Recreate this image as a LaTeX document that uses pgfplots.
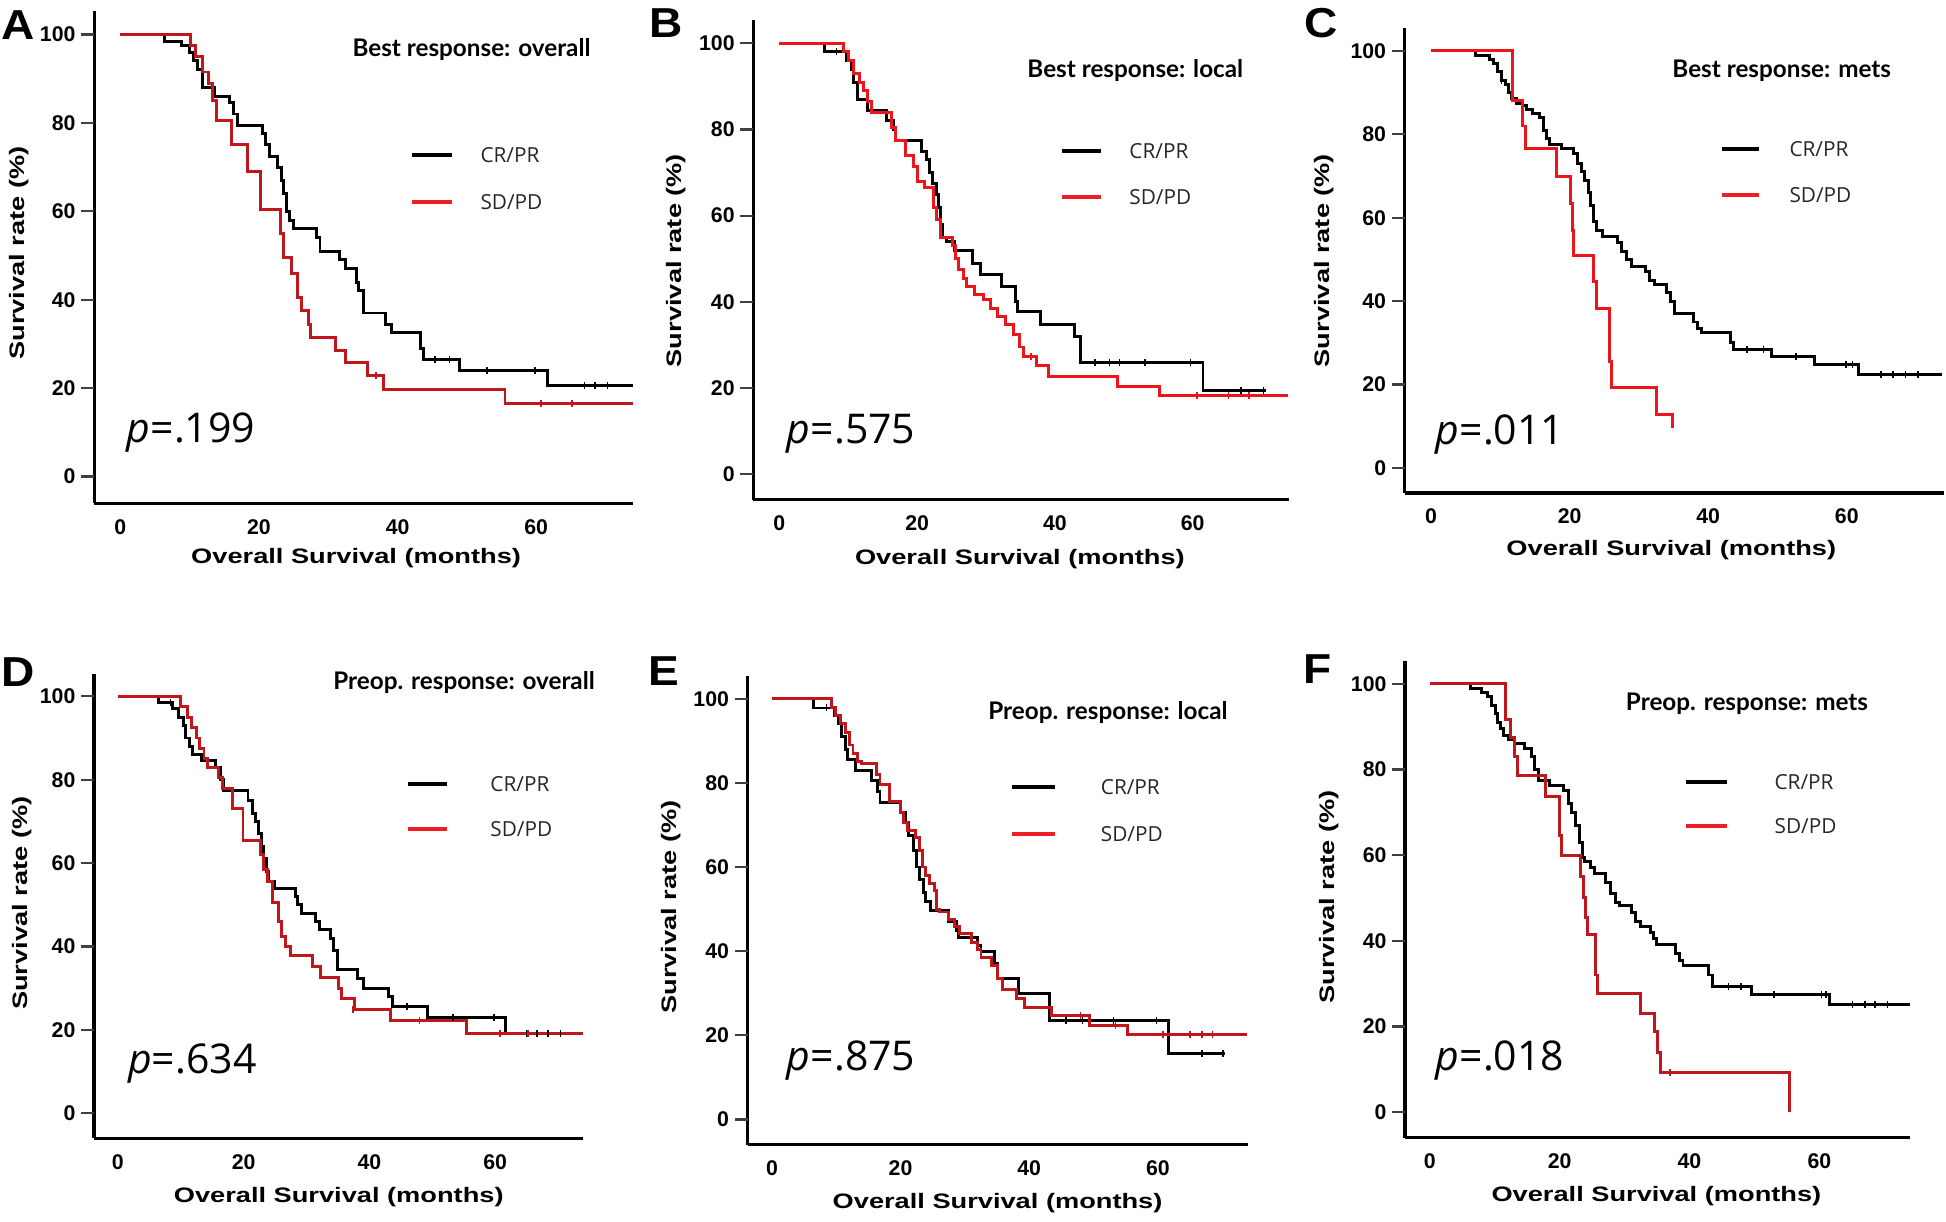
\documentclass[border=0pt]{standalone}
\usepackage{pgfplots}
\pgfplotsset{compat=1.18}
\usepackage{fontspec}
\setmainfont{Liberation Sans}
\newfontfamily\labfam[FakeStretch=1.3]{Liberation Sans}
\newfontfamily\letfam[FakeStretch=1.1]{Liberation Sans}
\newfontfamily\titfam{Lato}
\newfontfamily\legfam{Open Sans}
\newcommand{\tickfont}{\fontsize{12.2}{13}\selectfont\bfseries}
\newcommand{\labfont}{\labfam\fontsize{12}{13}\selectfont\bfseries}
\newcommand{\titfont}{\titfam\fontsize{13.9}{15}\selectfont\bfseries}
\newcommand{\legfont}{\legfam\fontsize{11.9}{13}\selectfont\color{black!85}}
\newcommand{\pval}[1]{{\legfam\fontsize{23.5}{25}\selectfont\itshape p\upshape=#1}}
\newcommand{\letfont}{\letfam\fontsize{24}{26}\selectfont\bfseries}
\definecolor{dred}{RGB}{192,22,28}
\definecolor{bred}{RGB}{236,22,26}
\definecolor{lred}{RGB}{238,30,36}
\pgfplotsset{
 ks/.style={scale only axis, anchor=south west, clip=false,
  xmin=-3.8, xmax=74, ymin=-6, ymax=105.4,
  axis lines=left, axis line style={-, line width=1.8pt},
  xtick={0,20,40,60}, ytick={0,20,40,60,80,100},
  major tick length=0pt,
  ticklabel style={font=\tickfont},
  xticklabel shift=0.20cm, yticklabel shift=0.25cm,
  /pgf/number format/assume math mode=true,
  after end axis/.code={%
    \foreach \tk in {0,20,40,60,80,100}{\draw[black!75, line width=1.3pt] (axis cs:-3.8,\tk) -- ++(-0.26cm,0pt);}%
  }},
 km/.style={const plot, line width=1.7pt, mark=none},
 cs/.style={only marks, mark=|, mark size=2pt, mark options={line width=0.9pt}},
}
\begin{document}
\begin{tikzpicture}
\useasboundingbox (0,0) rectangle (39.2,-24.6);
% ---------------- A
\begin{axis}[ks, at={(1.895cm,-10.135cm)}, width=10.86cm, height=9.9225cm]
\addplot[km, black] coordinates {(0,100) (6.4,98.5) (8.8,97.5) (10,96) (10.6,94) (11.1,92) (11.8,88) (13.6,86) (15.7,84.5) (16.3,82) (16.9,79.5) (20.5,77.5) (21,75) (21.5,72.5) (22.6,70) (23.2,67) (23.5,64) (23.9,60) (24.4,58) (25,56) (28.3,54) (28.8,51) (31.6,49) (32.5,47) (34,44) (34.3,42) (35.1,37) (38.2,34.5) (39.1,32.5) (43.3,29) (43.7,26.5) (49,24) (61.6,20.5) (73.9,20.5)};
\addplot[cs, black] coordinates {(45.4,26.5) (47.5,26.5) (52.9,24) (59.8,24) (67,20.5) (68.5,20.5) (70.3,20.5)};
\addplot[km, dred] coordinates {(0,100) (10.1,97.5) (10.9,95) (11.8,91.5) (12.7,89) (13.3,85) (13.9,80.5) (16.1,75) (18.3,69) (20.2,60.5) (23.1,55) (23.5,49.5) (24.7,46) (25.6,40.5) (26.2,37.5) (27.1,34.5) (27.4,31.5) (31,28.5) (32.5,25.8) (35.7,22.9) (37.9,19.7) (55.5,16.5) (73.9,16.5)};
\addplot[cs, dred] coordinates {(36.9,22.9) (60.7,16.5) (65.2,16.5)};
\end{axis}
% ---------------- B
\begin{axis}[ks, at={(15.1725cm,-10.07cm)}, width=10.795cm, height=9.665cm]
\addplot[km, black] coordinates {(0,100) (6.5,98) (9.8,96) (10.4,94) (10.8,91) (11.3,87) (12.8,84.5) (15.5,82) (16.5,80) (16.8,77.5) (20.7,75) (21.3,73) (21.8,70) (22.2,67.5) (22.8,65) (23.1,62) (23.4,58) (23.7,55) (24.3,54) (25.4,52) (28,49) (29.2,46.3) (32.2,43.5) (34.3,40) (34.6,37.7) (37.9,34.8) (42.8,32) (43.7,25.8) (61.5,19.5) (70.6,19.5)};
\addplot[cs, black] coordinates {(8.3,98) (45.8,25.8) (47.9,25.8) (49.4,25.8) (53.1,25.8) (59.7,25.8) (67,19.5) (70.3,19.5)};
\addplot[km, bred] coordinates {(0,100) (9.3,98) (10.1,96) (10.7,93) (11.6,91) (12.2,89) (12.8,86.5) (13.4,84) (16.3,80.5) (16.8,77.5) (18.3,74) (19.5,71.5) (20.1,68) (21,66.5) (22.4,62) (22.8,59) (23.4,55) (25.2,53) (25.6,50) (26,47.5) (26.7,45.5) (27.2,43.5) (28.3,41.7) (29.6,40.5) (30.7,38.5) (31.6,36.5) (32.8,34.8) (34,32.5) (34.9,29.5) (35.5,27.3) (37.3,25.3) (39,22.6) (49.1,20.3) (55.2,18.2) (73.9,18.2)};
\addplot[cs, bred] coordinates {(36.5,27.3) (60.6,18.2) (65.2,18.2) (68.2,18.2)};
\end{axis}
% ---------------- C
\begin{axis}[ks, at={(28.295cm,-9.93cm)}, width=10.86cm, height=9.3575cm]
\addplot[km, black] coordinates {(0,100) (6.4,99) (8.4,98) (9,97) (9.6,95) (10.2,93) (10.8,92) (11.2,90) (11.6,88.5) (12.3,87.5) (13.2,87) (13.8,86) (14.7,85) (15.6,84) (16.2,81) (16.6,79) (17.1,77.5) (18.8,76.5) (20.6,75.5) (21.2,73) (21.7,71) (22.1,69) (22.7,66) (23,63) (23.4,59) (23.9,57) (24.8,55.4) (26.9,54) (27.5,52) (28.2,50) (29,48.4) (31,47) (31.6,45) (32.3,44) (34,42) (34.6,40) (35.2,37) (37.9,35) (38.5,33.5) (39.1,32.5) (43.2,30) (43.6,28.3) (49.2,26.7) (55.3,24.7) (61.7,22.4) (73.8,22.4)};
\addplot[cs, black] coordinates {(10.2,93) (45.6,28.3) (48,28.3) (52.7,26.7) (59.9,24.7) (60.8,24.7) (64.9,22.4) (66.7,22.4) (68.5,22.4) (70.3,22.4)};
\addplot[km, bred] coordinates {(0,100) (11.7,88.2) (13.2,82) (13.6,76.5) (18.1,70) (20.2,63.5) (20.4,57) (20.6,51) (23.4,44.7) (23.9,38.3) (25.7,25.5) (26,19.3) (32.5,12.8) (34.9,9.5)};
\end{axis}
% ---------------- D
\begin{axis}[ks, at={(1.8925cm,-22.93cm)}, width=9.855cm, height=9.3575cm]
\addplot[km, black] coordinates {(0,100) (6.4,98.5) (8.7,97) (9.7,95) (10.4,93) (10.8,90) (11.4,88) (11.9,86) (13.3,84.5) (15.6,83) (16.3,80) (16.8,77.5) (20.7,75) (21.4,72) (21.9,70) (22.4,67) (22.9,64) (23.2,61) (23.6,58) (24,55.7) (24.9,54) (28.2,52) (28.6,50) (29.2,48) (31.5,46) (32.1,44) (33.8,42) (34.3,39) (35,34.5) (38.1,32.3) (39,30) (43,28) (43.6,25.5) (49.3,22.9) (61.7,19.1) (70.4,19.1)};
\addplot[cs, black] coordinates {(8.4,98.5) (46,25.5) (53.3,22.9) (59.8,22.9) (65,19.1) (66.7,19.1) (68.4,19.1) (70.4,19.1)};
\addplot[km, dred] coordinates {(0,100) (10,97.5) (11,95) (11.7,92.5) (12.5,90) (13,87.5) (13.7,85) (14.3,82.9) (16,80.5) (16.6,78) (18.3,73) (19.9,65.5) (22.7,62) (23.2,58.5) (23.8,55.5) (24.6,50.5) (25.5,46) (26.1,42.5) (26.7,40) (27.5,37.9) (31,35.3) (32.3,32.6) (35.1,30) (35.6,27.5) (37.6,25) (43.4,22.2) (55.4,19.1) (74,19.1)};
\addplot[cs, dred] coordinates {(37.4,25) (48,22.2) (60.8,19.1) (65.2,19.1)};
\end{axis}
% ---------------- E
\begin{axis}[ks, at={(15.0575cm,-23.0575cm)}, width=10.08cm, height=9.44cm]
\addplot[km, black] coordinates {(0,100) (6.5,97.8) (9.8,96) (10.4,94) (10.8,91) (11.4,88) (11.7,85.5) (13,83) (15.5,80.5) (16.4,78) (16.8,75.3) (20,73) (20.7,70.5) (21.3,67.5) (22,64) (22.4,60) (22.9,57) (23.6,54) (23.9,51.8) (24.7,49.6) (27.4,47) (28.7,45) (29,43.2) (31.9,41.3) (32.5,40) (34.6,37) (35,33.6) (38.3,30) (43.1,23.4) (61.7,15.6) (70.4,15.6)};
\addplot[cs, black] coordinates {(8.5,97.8) (45.7,23.4) (48.3,23.4) (53.1,23.4) (59.8,23.4) (66.9,15.6) (70.1,15.6)};
\addplot[km, dred] coordinates {(0,100) (9.3,98) (9.9,96) (10.7,94) (11.4,92) (12,89) (12.6,87) (13.3,85) (13.9,84.5) (16.2,82) (16.8,79.5) (18.3,75.5) (20,73) (20.5,70.5) (21,68.7) (22.3,67) (22.9,64) (23.4,60) (23.9,58) (24.5,56) (25.2,54.5) (25.6,50) (26.1,49.3) (27.4,47.5) (28.4,45.8) (29.2,44.2) (31.1,42) (31.9,40.5) (32.5,38.6) (34.1,36.5) (35.1,33.5) (35.8,30.8) (38,28.8) (39.3,26.7) (43.5,24.6) (49.4,22.4) (55.3,20.1) (73.9,20.1)};
\addplot[cs, dred] coordinates {(48,24.6) (53.4,22.4) (60.8,20.1) (65,20.1) (66.9,20.1) (68.5,20.1)};
\end{axis}
% ---------------- F
\begin{axis}[ks, at={(28.3025cm,-22.9175cm)}, width=10.1775cm, height=9.6075cm]
\addplot[km, black] coordinates {(0,100) (6.3,99) (7.9,98) (8.9,97) (9.5,95) (10.2,93) (10.5,91) (10.9,89.5) (11.4,88) (12.1,87) (13,86) (14.6,85) (15.6,83) (16.1,80) (16.7,77.5) (18.4,76.3) (20.6,75) (21.3,72) (21.9,70) (22.4,67) (23,63) (23.5,59.5) (23.8,58.5) (24.8,57) (25.4,55.7) (27,53.5) (27.9,51) (28.6,49) (29.2,48.3) (31.1,46.5) (31.7,44.5) (32.4,43.4) (34,42) (34.5,40.5) (34.9,39.2) (37.8,37) (38.4,35.5) (39,34.3) (43,32) (43.5,29.3) (49.5,27.4) (61.6,25.2) (74,25.2)};
\addplot[cs, black] coordinates {(46,29.3) (47.9,29.3) (53,27.4) (60.3,27.4) (61,27.4) (65.1,25.2) (67,25.2) (68.6,25.2) (70.5,25.2)};
\addplot[km, dred] coordinates {(0,100) (11.6,91.7) (12.4,87.5) (13.1,83) (13.5,78.6) (17.9,73.8) (20,64.5) (20.3,59.8) (23.2,55) (23.7,50) (24,45.5) (24.3,41.4) (25.5,32) (25.8,27.6) (32.4,23) (34.6,18.7) (35.1,13.8) (35.6,9.2) (55.4,0)};
\addplot[cs, dred] coordinates {(37,9.2)};
\end{axis}
% ---------------- texts
\begin{scope}[x=0.025cm,y=-0.025cm]
\foreach \L/\x/\y in {A/15/20,B/537/19,C/1065/19,D/15/542,E/535/541,F/1062/539}
  \node[font=\letfont, inner sep=0pt] at (\x,\y) {\L};
\foreach \x/\y in {287/450,822/451,1347/443,273/965,804/970,1335/964}
  \node[font=\labfont, inner sep=0pt] at (\x,\y) {Overall Survival (months)};
\foreach \x/\y in {15/204,545/210,1067/210,18/728,541/731,1071/723}
  \node[font=\labfont, inner sep=0pt, rotate=90] at (\x,\y) {Survival rate (\%)};
\node[font=\titfont, inner sep=0pt] at (380,40) {Best response: overall};
\node[font=\titfont, inner sep=0pt] at (915,57) {Best response: local};
\node[font=\titfont, inner sep=0pt] at (1436,57) {Best response: mets};
\node[font=\titfont, inner sep=0pt] at (374,550) {Preop. response: overall};
\node[font=\titfont, inner sep=0pt] at (893,574) {Preop. response: local};
\node[font=\titfont, inner sep=0pt] at (1408,567) {Preop. response: mets};
\foreach \a/\b/\t/\yb/\yr in {332/364/387/125/163, 856/887/910/122/159, 1388/1418/1442/120/157, 329/360/395/632/668, 816/850/887/634/672, 1359/1392/1430/630/666}{
  \draw[black, line width=2.4pt] (\a,\yb) -- (\b,\yb);
  \draw[lred, line width=2.4pt] (\a,\yr) -- (\b,\yr);
  \node[font=\legfont, anchor=west, inner sep=0pt] at (\t,\yb) {CR/PR};
  \node[font=\legfont, anchor=west, inner sep=0pt] at (\t,\yr) {SD/PD};
}
\node[anchor=west, inner sep=0pt] at (102,349) {\pval{.199}};
\node[anchor=west, inner sep=0pt] at (634,350) {\pval{.575}};
\node[anchor=west, inner sep=0pt] at (1157,350) {\pval{.011}};
\node[anchor=west, inner sep=0pt] at (103,857) {\pval{.634}};
\node[anchor=west, inner sep=0pt] at (634,855) {\pval{.875}};
\node[anchor=west, inner sep=0pt] at (1157,855) {\pval{.018}};
\end{scope}
\end{tikzpicture}
\end{document}
